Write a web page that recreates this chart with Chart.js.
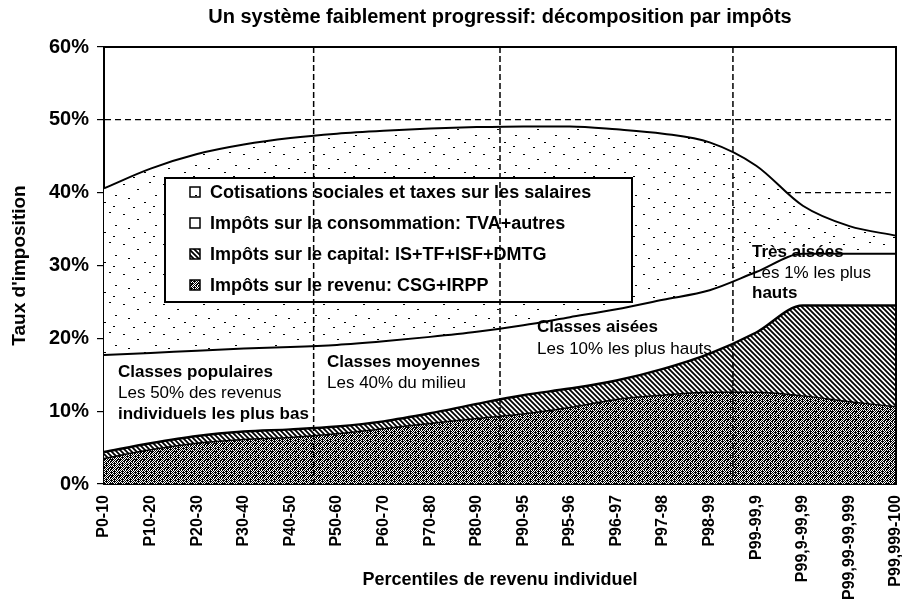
<!DOCTYPE html>
<html>
<head>
<meta charset="utf-8">
<script src="https://cdn.jsdelivr.net/npm/chart.js@4.4.0/dist/chart.umd.min.js"></script>
<style>
  html, body { margin: 0; padding: 0; background: #fff; }
  #wrap { width: 902px; height: 603px; }
</style>
</head>
<body>
<div id="wrap"><canvas id="chart" width="902" height="603"></canvas></div>
<script>
// categories = income percentiles
const categories = ['P0-10', 'P10-20', 'P20-30', 'P30-40', 'P40-50', 'P50-60', 'P60-70', 'P70-80', 'P80-90',
  'P90-95', 'P95-96', 'P96-97', 'P97-98', 'P98-99', 'P99-99,9', 'P99,9-99,99', 'P99,99-99,999', 'P99,999-100'];

// tax rates in % (stacked, bottom to top)
const impotsRevenu       = [3.5, 4.7, 5.6, 6.1, 6.4, 6.9, 7.6, 8.3, 9.0, 9.6, 10.5, 11.6, 12.2, 12.6, 12.6, 12.1, 11.3, 10.6];
const impotsCapital      = [0.9, 0.9, 1.0, 1.1, 1.1, 1.0, 1.0, 1.4, 2.0, 2.6, 2.6, 2.6, 3.6, 5.3, 8.2, 12.4, 13.2, 13.9];
const impotsConsommation = [13.3, 12.4, 11.7, 11.4, 11.3, 11.2, 11.0, 10.5, 9.9, 9.6, 9.8, 9.8, 9.5, 8.7, 8.3, 7.1, 7.1, 7.1];
const cotisations        = [22.9, 25.3, 27.0, 28.0, 28.7, 29.0, 28.9, 28.6, 28.1, 27.3, 26.2, 24.7, 22.8, 20.3, 14.6, 6.6, 3.8, 2.5];

const yTicks = [0, 10, 20, 30, 40, 50, 60];
// boundaries between income groups (between category indexes)
const groupBounds = [4.5, 8.5, 13.5];

const FONT = 'Liberation Sans, Arial, sans-serif';
const canvas = document.getElementById('chart');
const ctx = canvas.getContext('2d');

function makePattern(w, h, draw) {
  const c = document.createElement('canvas');
  c.width = w; c.height = h;
  const g = c.getContext('2d');
  g.fillStyle = '#fff';
  g.fillRect(0, 0, w, h);
  g.fillStyle = '#000';
  g.strokeStyle = '#000';
  draw(g);
  return ctx.createPattern(c, 'repeat');
}

// dense stipple for income tax
const stipple = makePattern(8, 8, g => {
  const rows = [
    '#.#.#.##',
    '.###.#.#',
    '#.#.#.#.',
    '##.#.###',
    '#.#.##.#',
    '.#.##.##',
    '#.#.#.#.',
    '.###.#.#'
  ];
  rows.forEach((r, y) => {
    for (let x = 0; x < r.length; x++) if (r[x] === '#') g.fillRect(x, y, 1, 1);
  });
});

// diagonal hatch for capital taxes
const hatch = makePattern(5, 5, g => {
  g.lineWidth = 1.8;
  g.beginPath();
  g.moveTo(-1, -1); g.lineTo(6, 6);
  g.moveTo(-1, 4); g.lineTo(1, 6);
  g.moveTo(4, -1); g.lineTo(6, 1);
  g.stroke();
});

// sparse dots for social contributions
const dots = makePattern(40, 30, g => {
  [[3, 4], [17, 9], [29, 2], [8, 18], [24, 22], [35, 15], [13, 27], [33, 26]].forEach(p => g.fillRect(p[0], p[1], 2, 1));
});

const groupLines = {
  id: 'groupLines',
  afterDatasetsDraw(chart) {
    const { ctx, chartArea: a, scales: { x } } = chart;
    ctx.save();

    // legend box
    const lx = 165, ly = 178, lw = 467, lh = 124;
    ctx.fillStyle = '#fff';
    ctx.fillRect(lx, ly, lw, lh);
    ctx.lineWidth = 2;
    ctx.strokeStyle = '#000';
    ctx.strokeRect(lx, ly, lw, lh);
    const items = chart.data.datasets.slice().reverse();
    ctx.font = 'bold 18px ' + FONT;
    ctx.textBaseline = 'middle';
    items.forEach((ds, i) => {
      const cy = 192 + i * 31;
      ctx.fillStyle = ds.backgroundColor;
      ctx.fillRect(190, cy - 5, 10, 10);
      ctx.lineWidth = 1.5;
      ctx.strokeRect(190, cy - 5, 10, 10);
      ctx.fillStyle = '#000';
      ctx.fillText(ds.label, 210, cy + 1);
    });

    // group separators
    ctx.setLineDash([6, 3]);
    ctx.lineWidth = 1.5;
    groupBounds.forEach(v => {
      const px = x.getPixelForValue(v);
      ctx.beginPath();
      ctx.moveTo(px, a.top);
      ctx.lineTo(px, a.bottom);
      ctx.stroke();
    });
    ctx.setLineDash([]);

    // frame top and right
    ctx.lineWidth = 2;
    ctx.beginPath();
    ctx.moveTo(a.left, a.top);
    ctx.lineTo(a.right, a.top);
    ctx.lineTo(a.right, a.bottom);
    ctx.stroke();

    // group annotations
    const notes = [
      [118, 372, 'Classes populaires', true],
      [118, 393, 'Les 50% des revenus', false],
      [118, 414, 'individuels les plus bas', true],
      [327, 362, 'Classes moyennes', true],
      [327, 383, 'Les 40% du milieu', false],
      [537, 327, 'Classes aisées', true],
      [537, 349, 'Les 10% les plus hauts', false],
      [752, 252, 'Très aisées', true],
      [752, 273, 'Les 1% les plus', false],
      [752, 293, 'hauts', true]
    ];
    ctx.fillStyle = '#000';
    ctx.textBaseline = 'middle';
    notes.forEach(n => {
      ctx.font = (n[3] ? 'bold ' : '') + '17px ' + FONT;
      ctx.fillText(n[2], n[0], n[1]);
    });
    ctx.restore();
  }
};

function area(label, data, bg, fill, bw) {
  return {
    label, data, fill,
    backgroundColor: bg,
    borderColor: '#000',
    borderWidth: bw,
    pointRadius: 0,
    cubicInterpolationMode: 'monotone'
  };
}

new Chart(ctx, {
  type: 'line',
  data: {
    labels: categories,
    datasets: [
      area('Impôts sur le revenu: CSG+IRPP', impotsRevenu, stipple, 'origin', 1.5),
      area('Impôts sur le capital: IS+TF+ISF+DMTG', impotsCapital, hatch, '-1', 2.5),
      area('Impôts sur la consommation: TVA+autres', impotsConsommation, '#fff', '-1', 2),
      area('Cotisations sociales et taxes sur les salaires', cotisations, dots, '-1', 2)
    ]
  },
  options: {
    responsive: false,
    animation: false,
    devicePixelRatio: 1,
    layout: { padding: 0 },
    plugins: {
      legend: { display: false },
      tooltip: { enabled: false },
      title: {
        display: true,
        fullSize: false,
        text: 'Un système faiblement progressif: décomposition par impôts',
        color: '#000',
        font: { family: FONT, size: 20, weight: 'bold' },
        padding: { top: 5, bottom: 18 }
      }
    },
    scales: {
      x: {
        offset: false,
        grid: { display: false },
        border: { display: true, color: '#000', width: 2 },
        ticks: {
          autoSkip: false, minRotation: 90, maxRotation: 90, padding: 3,
          color: '#000', font: { family: FONT, size: 16, weight: 'bold' }
        },
        title: {
          display: true,
          text: 'Percentiles de revenu individuel',
          color: '#000',
          font: { family: FONT, size: 18, weight: 'bold' },
          padding: { top: 0, bottom: 12 }
        },
        afterFit(scale) {
          scale.height = 119;
          scale.paddingRight = 6;
        }
      },
      y: {
        stacked: true,
        min: 0, max: 60,
        afterBuildTicks(scale) { scale.ticks = yTicks.map(v => ({ value: v })); },
        grid: { color: '#000', lineWidth: 1.2, tickLength: 7, tickColor: '#000', tickBorderDash: [] },
        border: { display: true, color: '#000', width: 2, dash: [6, 4] },
        ticks: {
          padding: 8, color: '#000',
          font: { family: FONT, size: 20, weight: 'bold' },
          callback: v => v + '%'
        },
        title: {
          display: true,
          text: "Taux d'imposition",
          color: '#000',
          font: { family: FONT, size: 19, weight: 'bold' },
          padding: { top: 8, bottom: 0 }
        },
        afterFit(scale) { scale.width = 104; }
      }
    }
  },
  plugins: [groupLines]
});
</script>
</body>
</html>
